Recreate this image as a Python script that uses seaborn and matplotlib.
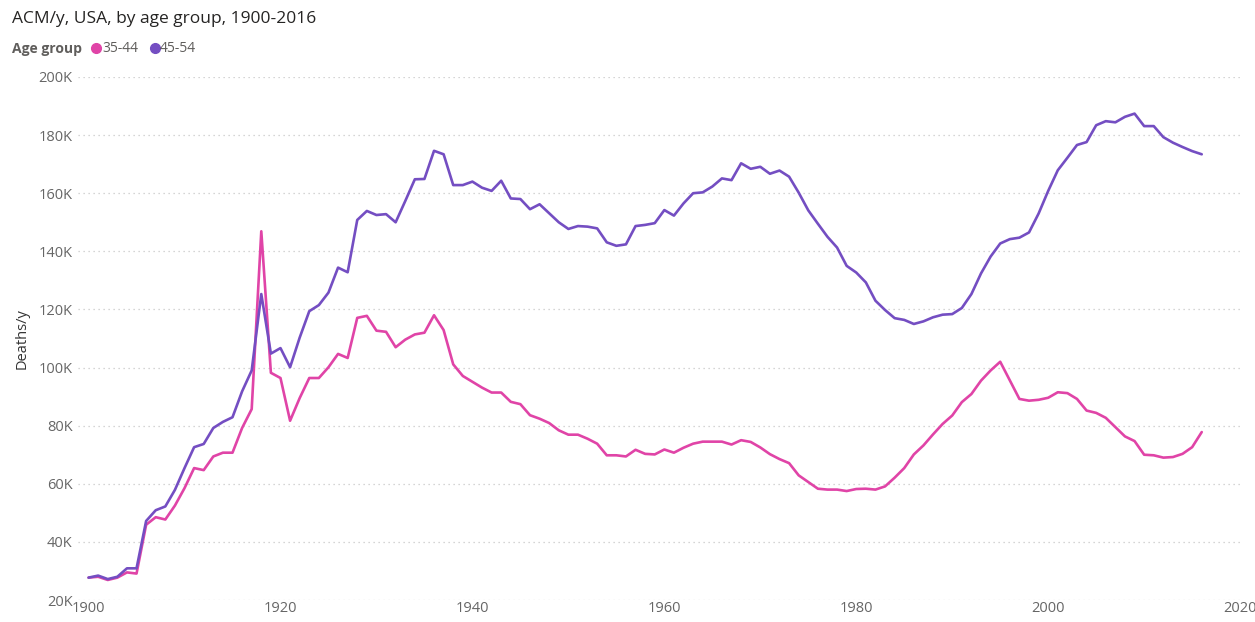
"""
ACM/y, USA, by age group, 1900-2016
"""

import pandas as pd
import numpy as np
import seaborn as sns
import matplotlib.pyplot as plt
from matplotlib.lines import Line2D
from matplotlib.ticker import FuncFormatter


# --------------------------------------------------
# data (thousands of deaths per year)
# --------------------------------------------------
years = list(range(1900, 2017))

age_35_44 = [
    27.7, 28.0, 26.9, 27.7, 29.5, 29.1, 45.9, 48.5, 47.7, 52.5,        # 1900s
    58.5, 65.4, 64.7, 69.4, 70.7, 70.7, 79.2, 85.7, 146.9, 98.2,       # 1910s
    96.4, 81.7, 89.5, 96.4, 96.4, 100.1, 104.7, 103.3, 117.1, 117.8,   # 1920s
    112.7, 112.3, 107.0, 109.6, 111.4, 112.0, 118.0, 112.9, 101.1, 97.1,  # 1930s
    95.1, 93.1, 91.4, 91.4, 88.2, 87.4, 83.6, 82.4, 80.9, 78.4,        # 1940s
    76.9, 76.9, 75.5, 73.8, 69.8, 69.8, 69.4, 71.7, 70.3, 70.1,        # 1950s
    71.8, 70.7, 72.4, 73.8, 74.5, 74.5, 74.5, 73.5, 75.0, 74.4,        # 1960s
    72.5, 70.2, 68.5, 67.1, 62.9, 60.6, 58.3, 58.0, 58.0, 57.5,        # 1970s
    58.2, 58.3, 58.0, 59.1, 62.1, 65.4, 70.1, 73.2, 77.0, 80.6,        # 1980s
    83.5, 88.1, 90.9, 95.5, 99.0, 102.0, 95.6, 89.2, 88.6, 88.9,       # 1990s
    89.6, 91.5, 91.2, 89.2, 85.2, 84.4, 82.7, 79.5, 76.3, 74.7,        # 2000s
    70.0, 69.8, 69.0, 69.2, 70.3, 72.6, 77.8,                          # 2010s
]

age_45_54 = [
    27.7, 28.4, 27.2, 28.0, 30.9, 30.9, 47.2, 50.9, 52.2, 57.9,
    65.4, 72.6, 73.7, 79.2, 81.3, 82.9, 91.8, 99.0, 125.3, 104.8,
    106.7, 100.1, 110.3, 119.4, 121.5, 125.8, 134.4, 132.8, 150.8, 153.9,
    152.5, 152.8, 150.0, 157.3, 164.8, 164.9, 174.6, 173.4, 162.8, 162.8,
    164.0, 161.9, 160.8, 164.3, 158.2, 158.0, 154.5, 156.2, 153.1, 150.0,
    147.7, 148.7, 148.5, 147.9, 143.1, 141.9, 142.4, 148.7, 149.1, 149.7,
    154.2, 152.3, 156.5, 160.0, 160.3, 162.3, 165.1, 164.5, 170.3, 168.4,
    169.1, 166.7, 167.8, 165.7, 160.2, 154.1, 149.5, 145.0, 141.3, 135.0,
    132.7, 129.3, 123.0, 119.8, 117.0, 116.4, 115.0, 115.9, 117.3, 118.2,
    118.4, 120.5, 125.3, 132.4, 138.2, 142.7, 144.2, 144.7, 146.5, 153.0,
    160.8, 167.9, 172.2, 176.6, 177.6, 183.4, 184.8, 184.4, 186.3, 187.4,
    183.1, 183.1, 179.3, 177.4, 175.9, 174.5, 173.4,
]

groups = ["35-44", "45-54"]
colors = {"35-44": "#E044A7", "45-54": "#744EC2"}

df = pd.DataFrame({
    "year": years * 2,
    "age_group": ["35-44"] * len(years) + ["45-54"] * len(years),
    "deaths": np.array(age_35_44 + age_45_54) * 1000,
})

# --------------------------------------------------
# plot
# --------------------------------------------------
sns.set_style("white")
plt.rcParams["font.family"] = ["Open Sans", "DejaVu Sans"]

fig = plt.figure(figsize=(12.55, 6.22), dpi=100)
ax = fig.add_axes([78 / 1255, 1 - 600 / 622, (1243 - 78) / 1255, (600 - 77) / 622])

sns.lineplot(data=df, x="year", y="deaths", hue="age_group", hue_order=groups,
             palette=colors, linewidth=1.9, legend=False, ax=ax)

ax.set_xlim(1898.9, 2020.3)
ax.set_ylim(20000, 200000)
ax.set_xticks(range(1900, 2021, 20))
ax.set_yticks(range(20000, 200001, 20000))
ax.yaxis.set_major_formatter(FuncFormatter(lambda v, p: f"{int(v / 1000)}K"))

ax.grid(axis="y", linestyle=(0, (1, 3)), color="#C8C8C8", linewidth=0.9)
ax.grid(axis="x", visible=False)
for s in ax.spines.values():
    s.set_visible(False)

ax.tick_params(axis="both", length=0, labelsize=10.5, colors="#666666")
ax.tick_params(axis="y", pad=4)
ax.tick_params(axis="x", pad=1)
ax.set_xlabel("")
ax.set_ylabel("Deaths/y", fontsize=10.5, color="#333333", labelpad=6)

fig.text(12 / 1255, 1 - 19 / 622, "ACM/y, USA, by age group, 1900-2016",
         fontsize=12.5, color="#252423", va="center", ha="left")
fig.text(12 / 1255, 1 - 49 / 622, "Age group", fontsize=10, fontweight="bold",
         color="#605E5C", va="center", ha="left")

handles = [Line2D([], [], marker="o", linestyle="", markersize=7,
                  color=colors[g]) for g in groups]
fig.legend(handles, groups, loc="center left", ncol=2, frameon=False,
           bbox_to_anchor=(88 / 1255, 1 - 49 / 622), fontsize=10,
           handletextpad=-0.2, columnspacing=0.6, handlelength=1.2,
           labelcolor="#605E5C", borderaxespad=0, borderpad=0)

plt.savefig("out.png", dpi=100)
plt.close()
